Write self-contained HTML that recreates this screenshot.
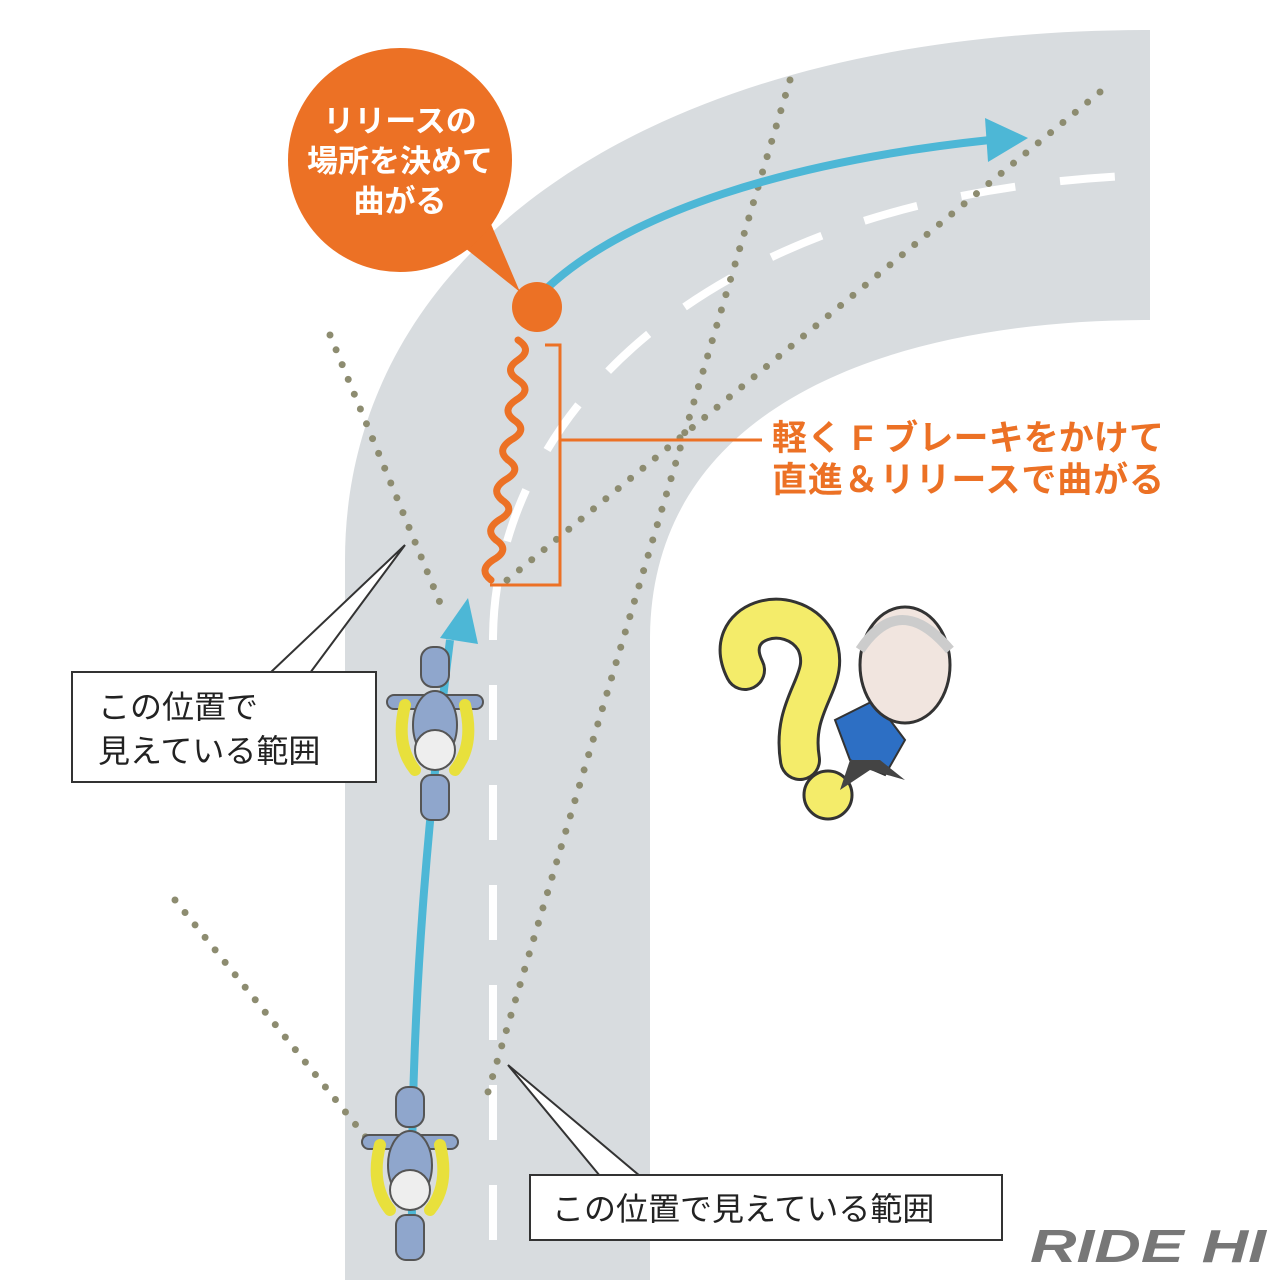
<!DOCTYPE html>
<html><head><meta charset="utf-8"><style>
html,body{margin:0;padding:0;background:#fff;}
svg{display:block}
text{font-family:"Liberation Sans","Noto Sans CJK JP",sans-serif;}
</style></head><body>
<svg width="1280" height="1280" viewBox="0 0 1280 1280" xmlns="http://www.w3.org/2000/svg">
<path d="M345,1280 L345,560 C345,250 650,30 1150,30 L1150,320 C900,320 650,400 650,640 L650,1280 Z" fill="#d8dcdf"/>
<path d="M493,1240 L493,640 C493,420 700,190 1150,175" fill="none" stroke="#fff" stroke-width="8" stroke-dasharray="55,45"/>
<g stroke="#8d8c70" stroke-width="7" stroke-linecap="round" stroke-dasharray="0,16" fill="none">
<line x1="330" y1="335" x2="445" y2="615"/>
<line x1="1100" y1="92" x2="495" y2="590"/>
<line x1="790" y1="80" x2="488" y2="1092"/>
<line x1="175" y1="900" x2="368" y2="1140"/>
</g>
<path d="M412,1225 C410,1000 430,800 450,640" fill="none" stroke="#4db7d6" stroke-width="8"/>
<polygon points="440,638 468,598 478,644" fill="#4db7d6"/>
<path d="M535,300 C620,210 800,160 990,140" fill="none" stroke="#4db7d6" stroke-width="8"/>
<polygon points="985,118 1028,138 988,162" fill="#4db7d6"/>
<polygon points="455,240 520,292 485,210" fill="#ec7125"/>
<circle cx="400" cy="160" r="112" fill="#ec7125"/>
<text x="400" y="132" fill="#fff" font-size="31" font-weight="bold" text-anchor="middle">リリースの</text>
<text x="400" y="172" fill="#fff" font-size="31" font-weight="bold" text-anchor="middle">場所を決めて</text>
<text x="400" y="212" fill="#fff" font-size="31" font-weight="bold" text-anchor="middle">曲がる</text>
<circle cx="537" cy="307" r="25" fill="#ec7125"/>
<path d="M518,340 q15,10 0,20 q-15,10 0,20 q15,10 -2,20 q-15,10 -2,20 q15,10 -3,20 q-15,10 -3,20 q15,10 -3,20 q-15,10 -3,20 q15,10 -3,20 q-15,10 -3,20 q15,10 -3,20 q-15,10 -2,20" fill="none" stroke="#ec7125" stroke-width="7" stroke-linecap="round"/>
<path d="M545,345 L560,345 L560,585 L490,585 M560,440 L762,440" fill="none" stroke="#ec7125" stroke-width="3"/>
<text x="772" y="450" fill="#ec7125" font-size="35" font-weight="bold" textLength="392">軽く F ブレーキをかけて</text>
<text x="772" y="492" fill="#ec7125" font-size="35" font-weight="bold" textLength="392">直進＆リリースで曲がる</text>
<polyline points="270,673 405,545 310,673" fill="#fff" stroke="#333" stroke-width="2"/>
<rect x="72" y="672" width="304" height="110" fill="#fff" stroke="#333" stroke-width="2"/>
<text x="98" y="718" font-size="32" fill="#222">この位置で</text>
<text x="98" y="762" font-size="32" fill="#222">見えている範囲</text>
<polyline points="600,1176 508,1065 640,1176" fill="#fff" stroke="#333" stroke-width="2"/>
<rect x="530" y="1175" width="472" height="65" fill="#fff" stroke="#333" stroke-width="2"/>
<text x="552" y="1220" font-size="32" fill="#222">この位置で見えている範囲</text>
<g id="bike1" transform="translate(435,735)">
<rect x="-14" y="-88" width="28" height="40" rx="12" fill="#8fa6cc" stroke="#555" stroke-width="2"/>
<rect x="-48" y="-40" width="96" height="14" rx="7" fill="#8fa6cc" stroke="#555" stroke-width="2"/>
<path d="M-30,-30 Q-40,10 -20,35 M30,-30 Q40,10 20,35" fill="none" stroke="#e8e03c" stroke-width="12" stroke-linecap="round"/>
<ellipse cx="0" cy="-10" rx="22" ry="34" fill="#8fa6cc" stroke="#555" stroke-width="2"/>
<circle cx="0" cy="15" r="20" fill="#eee" stroke="#555" stroke-width="2"/>
<rect x="-14" y="40" width="28" height="45" rx="10" fill="#8fa6cc" stroke="#555" stroke-width="2"/>
</g>
<use href="#bike1" transform="translate(-25,440)"/>
<path d="M745,670 C720,620 790,600 815,640 C835,680 790,700 800,760" fill="none" stroke="#333" stroke-width="42" stroke-linecap="round"/>
<path d="M745,670 C720,620 790,600 815,640 C835,680 790,700 800,760" fill="none" stroke="#f4ec6a" stroke-width="36" stroke-linecap="round"/>
<circle cx="828" cy="795" r="24" fill="#f4ec6a" stroke="#333" stroke-width="3"/>
<path d="M835,720 L875,700 L905,740 L885,775 L850,760 Z" fill="#2d6fc4" stroke="#333" stroke-width="2"/>
<path d="M850,760 L840,790 L870,770 L905,780 L880,760 Z" fill="#444"/>
<ellipse cx="905" cy="665" rx="45" ry="58" fill="#f1e5df" stroke="#333" stroke-width="3"/>
<path d="M860,650 Q900,590 950,650" fill="none" stroke="#ccc" stroke-width="10"/>
<text x="1266" y="1262" font-size="46" font-weight="bold" font-style="italic" fill="#777" text-anchor="end" textLength="236" lengthAdjust="spacingAndGlyphs">RIDE HI</text>
</svg>
</body></html>
